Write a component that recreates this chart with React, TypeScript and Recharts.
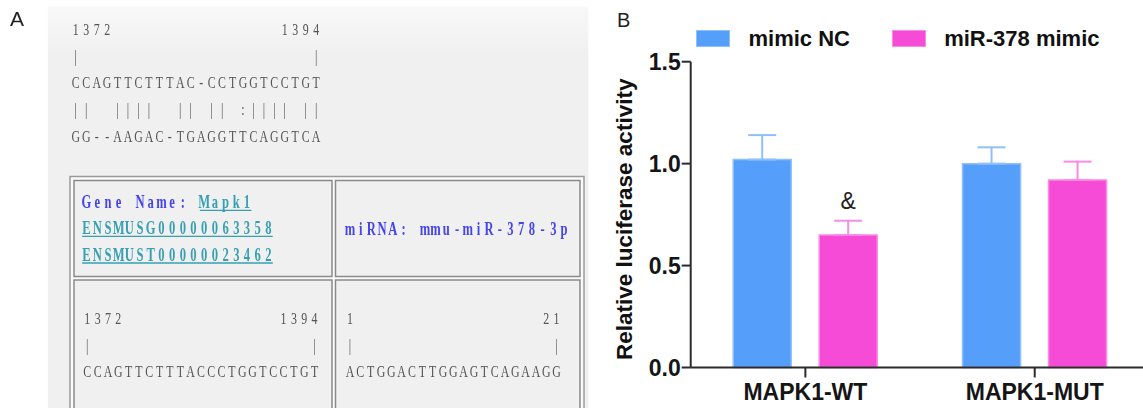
import React from 'react';
import { BarChart, Bar, XAxis, YAxis, ErrorBar, LabelList } from 'recharts';

// panel B values
const groups = ['MAPK1-WT', 'MAPK1-MUT'];
const mimicNC = [1.02, 1.0];
const mimicNCErr = [0.12, 0.08];
const mir378 = [0.65, 0.92];
const mir378Err = [0.07, 0.09];
const sigMarks = ['&', ''];
const yTicks = [0, 0.5, 1.0, 1.5];
const seriesNames = ['mimic NC', 'miR-378 mimic'];
const seriesFill = ['#559ffb', '#f64bd6'];
const seriesEdge = ['#8fc0fb', '#f98be3'];

// panel A text
const siteRows = [
  '1372                1394',
  '|                      |',
  'CCAGTTCTTTAC-CCTGGTCCTGT',
  '||  ||||  || || :|||| ||',
  'GG--AAGAC-TGAGGTTCAGGTCA',
];
const geneName = 'Mapk1';
const geneId = 'ENSMUSG00000063358';
const transcriptId = 'ENSMUST00000023462';
const mirnaName = 'mmu-miR-378-3p';
const utrRows = ['1372               1394', '|                     |', 'CCAGTTCTTTACCCTGGTCCTGT'];
const mirRows = ['1                  21', '|                   |', 'ACTGGACTTGGAGTCAGAAGG'];

const data = groups.map((g, i) => ({
  group: g,
  nc: mimicNC[i],
  ncErr: [0, mimicNCErr[i]],
  mir: mir378[i],
  mirErr: [0, mir378Err[i]],
  sig: sigMarks[i],
}));

const SANS = '"Liberation Sans", Arial, sans-serif';
const SERIF = '"Liberation Serif", "Times New Roman", serif';
const AXIS = '#2b2b2b';
const SEQ = '#555555';
const BLUE_TXT = '#4343f0';
const LINK = '#36a0b3';

type Seg = { t: string; fill: string; link?: boolean };

// fixed-pitch line drawn with a narrowed serif face, one cell per character
function MonoLine({ segs, cx, y, pitch, bold }: { segs: Seg[]; cx: number; y: number; pitch: number; bold?: boolean }) {
  const sx = bold ? 0.7 : 0.68;
  let idx = 0;
  const parts = segs.map((s, k) => {
    const start = idx;
    idx += s.t.length;
    const xs = Array.from(s.t).map((_, i) => ((start + i) * pitch) / sx);
    return { s, start, xs, k };
  });
  return (
    <g>
      <g transform={`translate(${cx},${y}) scale(${sx},1)`}>
        <text
          y={0}
          textAnchor="middle"
          fontFamily={SERIF}
          fontSize={bold ? 18 : 17.5}
          fontWeight={bold ? 700 : 400}
          style={{ whiteSpace: 'pre' }}
        >
          {parts.map((p) => (
            <tspan key={p.k} x={p.xs.join(' ')} fill={p.s.fill}>
              {p.s.t}
            </tspan>
          ))}
        </text>
      </g>
      {parts
        .filter((p) => p.s.link)
        .map((p) => (
          <line
            key={'ul' + p.k}
            x1={cx + p.start * pitch - pitch / 2 + 1}
            x2={cx + (p.start + p.s.t.length) * pitch - pitch / 2 - 1}
            y1={y + 2.5}
            y2={y + 2.5}
            stroke={p.s.fill}
            strokeWidth={1.3}
          />
        ))}
    </g>
  );
}

function PanelA() {
  return (
    <svg width={590} height={408} style={{ position: 'absolute', left: 0, top: 0, opacity: 0.999, willChange: 'transform' }}>
      <defs>
        <linearGradient id="bgA" x1="0" y1="0" x2="0" y2="1">
          <stop offset="0" stopColor="#f8f8f8" />
          <stop offset="0.12" stopColor="#f0f0f0" />
          <stop offset="1" stopColor="#f0f0f0" />
        </linearGradient>
      </defs>
      <text x={10} y={26} fontFamily={SANS} fontSize={21} fill="#222">A</text>
      <rect x={47.8} y={6.7} width={540.5} height={402} fill="url(#bgA)" />
      {siteRows.map((r, i) => (
        <MonoLine key={i} segs={[{ t: r, fill: SEQ }]} cx={75.8} y={34.8 + 26.7 * i} pitch={10.45} />
      ))}
      {/* table */}
      <rect x={70} y={176.5} width={514} height={240} fill="#fafafa" stroke="#9a9a9a" strokeWidth={1.5} />
      <rect x={74} y={180.5} width={258} height={96} fill="#f0f0f0" stroke="#8a8a8a" strokeWidth={1.5} />
      <rect x={335.5} y={180.5} width={244.5} height={96} fill="#f0f0f0" stroke="#8a8a8a" strokeWidth={1.5} />
      <rect x={74} y={280} width={258} height={140} fill="#f0f0f0" stroke="#8a8a8a" strokeWidth={1.5} />
      <rect x={335.5} y={280} width={244.5} height={140} fill="#f0f0f0" stroke="#8a8a8a" strokeWidth={1.5} />
      <MonoLine
        bold
        segs={[{ t: 'Gene Name: ', fill: BLUE_TXT }, { t: geneName, fill: LINK, link: true }]}
        cx={86.5}
        y={207.8}
        pitch={10.7}
      />
      <MonoLine bold segs={[{ t: geneId, fill: LINK, link: true }]} cx={86.5} y={233.8} pitch={10.7} />
      <MonoLine bold segs={[{ t: transcriptId, fill: LINK, link: true }]} cx={86.5} y={260.5} pitch={10.7} />
      <MonoLine bold segs={[{ t: 'miRNA: ' + mirnaName, fill: BLUE_TXT }]} cx={350} y={234.8} pitch={10.7} />
      {utrRows.map((r, i) => (
        <MonoLine key={'u' + i} segs={[{ t: r, fill: SEQ }]} cx={87.3} y={323.8 + 26.7 * i} pitch={10.33} />
      ))}
      {mirRows.map((r, i) => (
        <MonoLine key={'m' + i} segs={[{ t: r, fill: SEQ }]} cx={350} y={323.8 + 26.7 * i} pitch={10.33} />
      ))}
    </svg>
  );
}

function Legend() {
  return (
    <div style={{ position: 'absolute', left: 0, top: 0, fontFamily: SANS, fontWeight: 700, fontSize: 22, color: '#111' }}>
      {seriesNames.map((n, i) => {
        const left = i === 0 ? 696 : 891.7;
        return (
          <React.Fragment key={n}>
            <div
              style={{
                position: 'absolute', left, top: 30, width: 34, height: 17, boxSizing: 'border-box',
                background: seriesFill[i], border: `1.5px solid ${seriesEdge[i]}`,
              }}
            />
            <div style={{ position: 'absolute', left: left + 52.5, top: 28.1, lineHeight: '22px', whiteSpace: 'nowrap' }}>{n}</div>
          </React.Fragment>
        );
      })}
    </div>
  );
}

const sigLabel = (p: any) =>
  p.value ? (
    <text x={p.x + p.width / 2} y={p.y - 25.5} textAnchor="middle" fontFamily={SANS} fontSize={23} fill="#222">
      {p.value}
    </text>
  ) : null;

const yTitle = (p: any) => (
  <text
    x={42}
    y={219.3}
    transform="rotate(-90, 42, 219.3)"
    textAnchor="middle"
    fontFamily={SANS}
    fontSize={22.5}
    fontWeight={700}
    fill="#111"
  >
    {p.value}
  </text>
);

export default function App() {
  const tickFont = { fontFamily: SANS, fontSize: 23, fontWeight: 700, fill: '#151515' };
  return (
    <div style={{ position: 'fixed', left: 0, top: 0, width: 1143, height: 408, overflow: 'hidden', background: '#fff' }}>
      <PanelA />
      <div style={{ position: 'absolute', left: 617, top: 0, fontFamily: SANS, fontSize: 20, lineHeight: '20px', paddingTop: 9.5, color: '#222' }}>B</div>
      <div style={{ position: 'absolute', left: 590, top: 0 }}>
        <BarChart
          width={570}
          height={408}
          data={data}
          margin={{ top: 61.7, right: 10.6, bottom: 0, left: 0 }}
          barCategoryGap={42.5}
          barGap={28}
        >
          <XAxis
            dataKey="group"
            height={40.5}
            interval={0}
            tickSize={10}
            tickMargin={6}
            axisLine={{ stroke: AXIS, strokeWidth: 2 }}
            tickLine={{ stroke: AXIS, strokeWidth: 2 }}
            tick={tickFont}
          />
          <YAxis
            width={100.7}
            domain={[0, 1.5]}
            ticks={yTicks}
            tickFormatter={(v: number) => v.toFixed(1)}
            tickSize={9}
            tickMargin={1}
            axisLine={{ stroke: AXIS, strokeWidth: 2 }}
            tickLine={{ stroke: AXIS, strokeWidth: 2 }}
            tick={tickFont}
            label={{ value: 'Relative luciferase activity', content: yTitle }}
          />
          <Bar dataKey="nc" name={seriesNames[0]} fill={seriesFill[0]} stroke={seriesEdge[0]} strokeWidth={1.5} isAnimationActive={false}>
            <ErrorBar dataKey="ncErr" direction="y" width={14} stroke={seriesEdge[0]} strokeWidth={2} isAnimationActive={false} />
          </Bar>
          <Bar dataKey="mir" name={seriesNames[1]} fill={seriesFill[1]} stroke={seriesEdge[1]} strokeWidth={1.5} isAnimationActive={false}>
            <ErrorBar dataKey="mirErr" direction="y" width={14} stroke={seriesEdge[1]} strokeWidth={2} isAnimationActive={false} />
            <LabelList dataKey="sig" content={sigLabel} />
          </Bar>
        </BarChart>
      </div>
      <Legend />
    </div>
  );
}
